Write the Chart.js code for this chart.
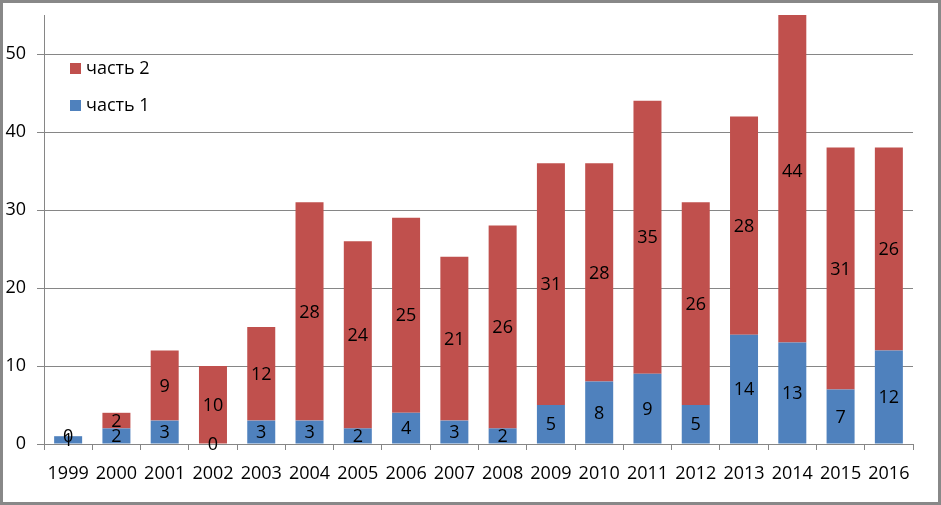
<!DOCTYPE html>
<html>
<head>
<meta charset="utf-8">
<script src="https://cdn.jsdelivr.net/npm/chart.js@4"></script>
<style>
    body { margin: 0; background: #fff; }
    #wrap { position: relative; width: 941px; height: 505px; }
    #frame { position: absolute; left: 0; top: 0; width: 941px; height: 505px;
             box-sizing: border-box; border: 3px solid #888; pointer-events: none; }
    canvas { position: absolute; left: 0; top: 0; }
</style>
</head>
<body>
<div id="wrap">
    <canvas id="chart" width="941" height="505"></canvas>
    <div id="frame"></div>
</div>
<script>
const years = ['1999', '2000', '2001', '2002', '2003', '2004', '2005', '2006', '2007',
    '2008', '2009', '2010', '2011', '2012', '2013', '2014', '2015', '2016'];
const part1 = [1, 2, 3, 0, 3, 3, 2, 4, 3, 2, 5, 8, 9, 5, 14, 13, 7, 12];
const part2 = [0, 2, 9, 10, 12, 28, 24, 25, 21, 26, 31, 28, 35, 26, 28, 44, 31, 26];
const yTicks = [0, 10, 20, 30, 40, 50];
const yMax = 55;

const FONT = '"Open Sans", sans-serif';
const gridColor = '#868686';

// value labels in the middle of each segment (unclipped, like Excel)
const valueLabels = {
    id: 'valueLabels',
    afterDatasetsDraw(chart) {
        const ctx = chart.ctx;
        ctx.save();
        ctx.font = '18px ' + FONT;
        ctx.fillStyle = '#000';
        ctx.textAlign = 'center';
        ctx.textBaseline = 'middle';
        chart.data.datasets.forEach((ds, i) => {
            const meta = chart.getDatasetMeta(i);
            meta.data.forEach((bar, j) => {
                const p = bar.getProps(['x', 'y', 'base'], true);
                ctx.fillText(String(ds.data[j]), p.x, (p.y + p.base) / 2 + 1);
            });
        });
        ctx.restore();
    }
};

// legend inside the plot, upper left, reversed order
const innerLegend = {
    id: 'innerLegend',
    afterDraw(chart) {
        const ctx = chart.ctx;
        const items = chart.data.datasets.slice().reverse();
        ctx.save();
        ctx.font = '18px ' + FONT;
        ctx.textBaseline = 'middle';
        ctx.textAlign = 'left';
        items.forEach((ds, k) => {
            const cy = 69 + k * 37;
            ctx.fillStyle = ds.backgroundColor;
            ctx.fillRect(70, cy - 6, 11, 11);
            ctx.fillStyle = '#000';
            ctx.fillText(ds.label, 86, cy);
        });
        ctx.restore();
    }
};

new Chart(document.getElementById('chart'), {
    type: 'bar',
    data: {
        labels: years,
        datasets: [
            { label: 'часть 1', data: part1, backgroundColor: '#4F81BD' },
            { label: 'часть 2', data: part2, backgroundColor: '#C0504D' }
        ]
    },
    options: {
        responsive: false,
        animation: false,
        devicePixelRatio: 1,
        layout: { padding: { top: 15, right: 28, left: 0, bottom: 0 } },
        datasets: { bar: { barPercentage: 0.58, categoryPercentage: 1 } },
        plugins: { legend: { display: false }, tooltip: { enabled: false } },
        scales: {
            x: {
                stacked: true,
                afterFit: s => { s.height = 61; },
                grid: { display: true, drawOnChartArea: false, drawTicks: true, tickLength: 6, color: gridColor, offset: true },
                border: { color: gridColor, width: 1 },
                ticks: { color: '#000', font: { family: FONT, size: 18 }, padding: 13, maxRotation: 0, autoSkip: false }
            },
            y: {
                stacked: true,
                min: 0,
                max: yMax,
                afterFit: s => { s.width = 44; s.paddingTop = 0; },
                afterBuildTicks: s => { s.ticks = yTicks.map(v => ({ value: v })); },
                grid: { color: gridColor, tickLength: 7 },
                border: { color: gridColor, width: 1 },
                ticks: { color: '#000', font: { family: FONT, size: 18 }, padding: 11 }
            }
        }
    },
    plugins: [valueLabels, innerLegend]
});
</script>
</body>
</html>
